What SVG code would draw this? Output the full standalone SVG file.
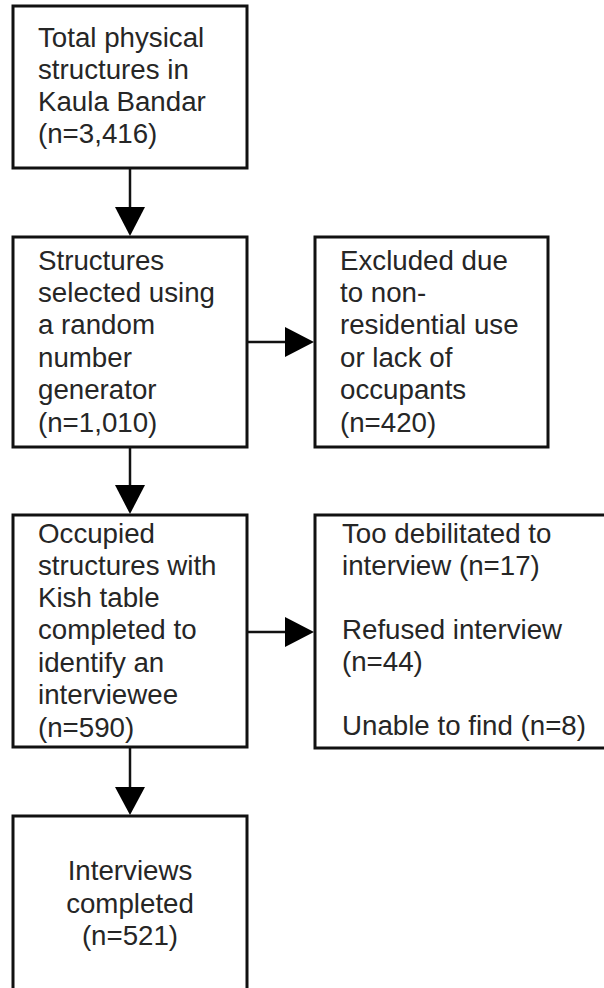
<svg xmlns="http://www.w3.org/2000/svg" width="604" height="988" viewBox="0 0 604 988">
<defs>
<style>
.box{fill:#fff;stroke:#111;stroke-width:3}
.t{font-family:"Liberation Sans",Arial,sans-serif;font-size:27.7px;fill:#262626}
.c{text-anchor:middle}
.ln{stroke:#111;stroke-width:2.5;fill:none}
.hd{fill:#000}
</style>
</defs>
<rect width="604" height="988" fill="#fff"/>
<g id="connectors">
<line class="ln" x1="130" y1="168" x2="130" y2="210"/>
<polygon class="hd" points="115,207 145,207 130,236"/>
<line class="ln" x1="130" y1="447" x2="130" y2="488"/>
<polygon class="hd" points="115,485 145,485 130,514"/>
<line class="ln" x1="130" y1="747" x2="130" y2="790"/>
<polygon class="hd" points="115,787 145,787 130,815"/>
<line class="ln" x1="247" y1="342" x2="288" y2="342"/>
<polygon class="hd" points="285,327 285,357 314,342"/>
<line class="ln" x1="247" y1="632" x2="288" y2="632"/>
<polygon class="hd" points="285,617 285,647 314,632"/>
</g>
<g id="n1">
<rect class="box" x="13" y="6" width="234" height="162"/>
<text class="t" x="38" y="47">Total physical</text>
<text class="t" x="38" y="79">structures in</text>
<text class="t" x="38" y="111">Kaula Bandar</text>
<text class="t" x="38" y="143">(n=3,416)</text>
</g>
<g id="n2">
<rect class="box" x="13" y="237" width="234" height="210"/>
<text class="t" x="38" y="270">Structures</text>
<text class="t" x="38" y="302">selected using</text>
<text class="t" x="38" y="334">a random</text>
<text class="t" x="38" y="367">number</text>
<text class="t" x="38" y="399">generator</text>
<text class="t" x="38" y="432">(n=1,010)</text>
</g>
<g id="n3">
<rect class="box" x="315" y="237" width="233" height="210"/>
<text class="t" x="340" y="270">Excluded due</text>
<text class="t" x="340" y="302">to non-</text>
<text class="t" x="340" y="334">residential use</text>
<text class="t" x="340" y="367">or lack of</text>
<text class="t" x="340" y="399">occupants</text>
<text class="t" x="340" y="432">(n=420)</text>
</g>
<g id="n4">
<rect class="box" x="13" y="515" width="234" height="232"/>
<text class="t" x="38" y="543">Occupied</text>
<text class="t" x="38" y="575">structures with</text>
<text class="t" x="38" y="607">Kish table</text>
<text class="t" x="38" y="639">completed to</text>
<text class="t" x="38" y="672">identify an</text>
<text class="t" x="38" y="704">interviewee</text>
<text class="t" x="38" y="737">(n=590)</text>
</g>
<g id="n5">
<rect class="box" x="315" y="515" width="300" height="233"/>
<text class="t" x="342" y="543">Too debilitated to</text>
<text class="t" x="342" y="575">interview (n=17)</text>
<text class="t" x="342" y="639">Refused interview</text>
<text class="t" x="342" y="671">(n=44)</text>
<text class="t" x="342" y="735">Unable to find (n=8)</text>
</g>
<g id="n6">
<rect class="box" x="13" y="816" width="234" height="180"/>
<text class="t c" x="130" y="880">Interviews</text>
<text class="t c" x="130" y="913">completed</text>
<text class="t c" x="130" y="945">(n=521)</text>
</g>
</svg>
